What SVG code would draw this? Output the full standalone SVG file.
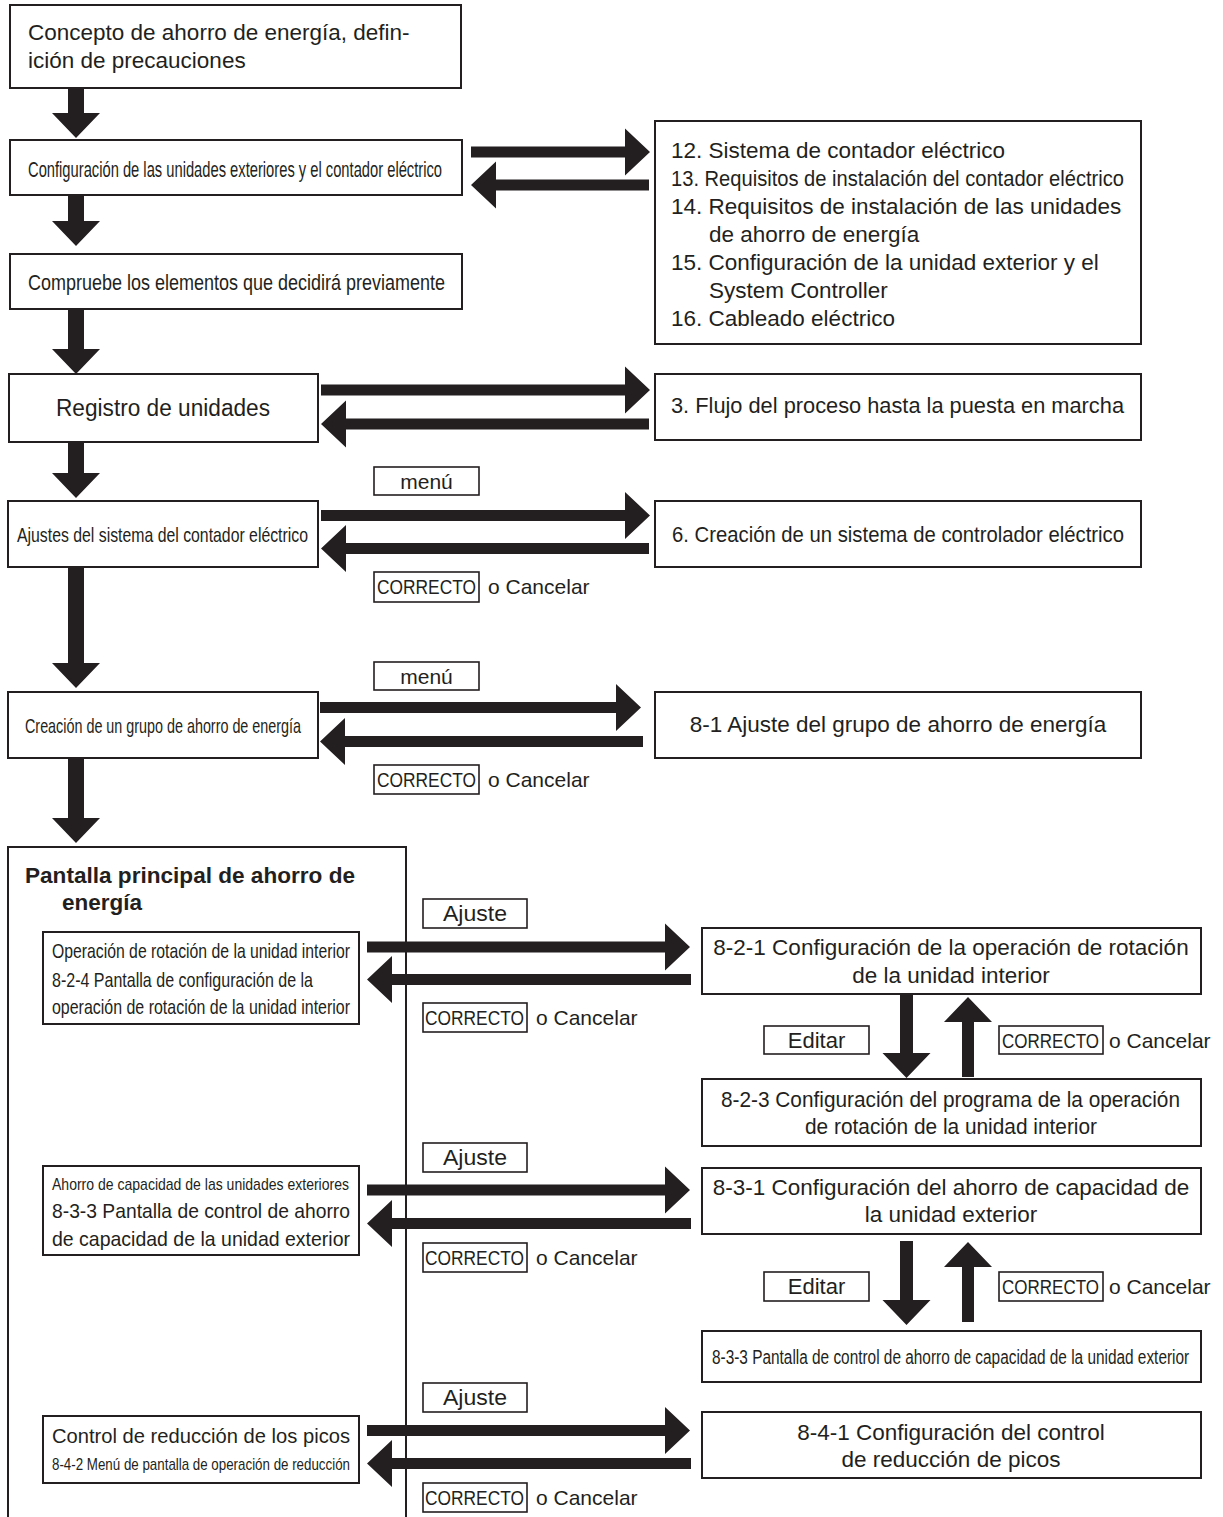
<svg xmlns="http://www.w3.org/2000/svg" width="1223" height="1517" viewBox="0 0 1223 1517">
<style>
  .box{fill:#fff;stroke:#231f20;stroke-width:2}
  .lbl{fill:#fff;stroke:#231f20;stroke-width:1.6}
  .arr{fill:#231f20;stroke:none}
  text{font-family:"Liberation Sans",Arial,Helvetica,sans-serif;fill:#231f20}
  .t{font-size:22.5px}
  .tr{font-size:23px}
  .tc{font-size:22px}
  .ts{font-size:21px}
  .tn{font-size:20px}
  .tx{font-size:17px}
  .tb{font-size:22.5px;font-weight:bold}
  .c{text-anchor:middle}
</style>
<rect width="1223" height="1517" fill="#fff"/>

<g id="n-main">
  <path class="box" d="M8,1517 V847 H406 V1517" fill="none"/>
  <text class="tb" x="25" y="883" textLength="330" lengthAdjust="spacingAndGlyphs">Pantalla principal de ahorro de</text>
  <text class="tb" x="62" y="910">energía</text>
</g>

<g id="n-concepto">
  <rect class="box" x="10" y="5" width="451" height="83"/>
  <text class="t" x="28" y="40">Concepto de ahorro de energía, defin-</text>
  <text class="t" x="28" y="68">ición de precauciones</text>
</g>
<g id="n-config">
  <rect class="box" x="10" y="140" width="452" height="55"/>
  <text class="tc" x="28" y="177" textLength="414" lengthAdjust="spacingAndGlyphs">Configuración de las unidades exteriores y el contador eléctrico</text>
</g>
<g id="n-compruebe">
  <rect class="box" x="10" y="254" width="452" height="55"/>
  <text class="tc" x="28" y="290" textLength="417" lengthAdjust="spacingAndGlyphs">Compruebe los elementos que decidirá previamente</text>
</g>
<g id="n-registro">
  <rect class="box" x="9" y="374" width="309" height="68"/>
  <text class="tr" x="56" y="416" textLength="214" lengthAdjust="spacingAndGlyphs">Registro de unidades</text>
</g>
<g id="n-ajustes">
  <rect class="box" x="8" y="501" width="310" height="66"/>
  <text class="ts" x="17" y="542" textLength="291" lengthAdjust="spacingAndGlyphs">Ajustes del sistema del contador eléctrico</text>
</g>
<g id="n-creacion">
  <rect class="box" x="8" y="692" width="310" height="66"/>
  <text class="ts" x="25" y="733" textLength="276" lengthAdjust="spacingAndGlyphs">Creación de un grupo de ahorro de energía</text>
</g>

<g id="n-secciones">
  <rect class="box" x="655" y="121" width="486" height="223"/>
  <text class="t" x="671" y="158">12. Sistema de contador eléctrico</text>
  <text class="t" x="671" y="186" textLength="453" lengthAdjust="spacingAndGlyphs">13. Requisitos de instalación del contador eléctrico</text>
  <text class="t" x="671" y="214">14. Requisitos de instalación de las unidades</text>
  <text class="t" x="709" y="242">de ahorro de energía</text>
  <text class="t" x="671" y="270">15. Configuración de la unidad exterior y el</text>
  <text class="t" x="709" y="298">System Controller</text>
  <text class="t" x="671" y="326">16. Cableado eléctrico</text>
</g>
<g id="n-flujo">
  <rect class="box" x="655" y="374" width="486" height="66"/>
  <text class="t" x="671" y="413" textLength="453" lengthAdjust="spacingAndGlyphs">3. Flujo del proceso hasta la puesta en marcha</text>
</g>
<g id="n-sistema">
  <rect class="box" x="655" y="501" width="486" height="66"/>
  <text class="t" x="672" y="542" textLength="452" lengthAdjust="spacingAndGlyphs">6. Creación de un sistema de controlador eléctrico</text>
</g>
<g id="n-grupo">
  <rect class="box" x="655" y="692" width="486" height="66"/>
  <text class="t c" x="898" y="732">8-1 Ajuste del grupo de ahorro de energía</text>
</g>

<g id="n-rotacion">
  <rect class="box" x="43" y="932" width="316" height="92"/>
  <text class="ts" x="52" y="958" textLength="298" lengthAdjust="spacingAndGlyphs">Operación de rotación de la unidad interior</text>
  <text class="ts" x="52" y="987" textLength="261" lengthAdjust="spacingAndGlyphs">8-2-4 Pantalla de configuración de la</text>
  <text class="ts" x="52" y="1014" textLength="298" lengthAdjust="spacingAndGlyphs">operación de rotación de la unidad interior</text>
</g>
<g id="n-capacidad">
  <rect class="box" x="43" y="1166" width="316" height="89"/>
  <text class="tx" x="52" y="1190" textLength="297" lengthAdjust="spacingAndGlyphs">Ahorro de capacidad de las unidades exteriores</text>
  <text class="ts" x="52" y="1218" textLength="298" lengthAdjust="spacingAndGlyphs">8-3-3 Pantalla de control de ahorro</text>
  <text class="ts" x="52" y="1246" textLength="298" lengthAdjust="spacingAndGlyphs">de capacidad de la unidad exterior</text>
</g>
<g id="n-picos">
  <rect class="box" x="43" y="1416" width="316" height="67"/>
  <text class="ts" x="52" y="1443" textLength="298" lengthAdjust="spacingAndGlyphs">Control de reducción de los picos</text>
  <text class="tx" x="52" y="1470" textLength="298" lengthAdjust="spacingAndGlyphs">8-4-2 Menú de pantalla de operación de reducción</text>
</g>

<g id="n-821">
  <rect class="box" x="702" y="928" width="499" height="66"/>
  <text class="t c" x="951" y="955">8-2-1 Configuración de la operación de rotación</text>
  <text class="t c" x="951" y="983">de la unidad interior</text>
</g>
<g id="n-823">
  <rect class="box" x="702" y="1079" width="499" height="67"/>
  <text class="t" x="721" y="1107" textLength="459" lengthAdjust="spacingAndGlyphs">8-2-3 Configuración del programa de la operación</text>
  <text class="t" x="805" y="1134" textLength="292" lengthAdjust="spacingAndGlyphs">de rotación de la unidad interior</text>
</g>
<g id="n-831">
  <rect class="box" x="702" y="1168" width="499" height="66"/>
  <text class="t c" x="951" y="1195">8-3-1 Configuración del ahorro de capacidad de</text>
  <text class="t c" x="951" y="1222">la unidad exterior</text>
</g>
<g id="n-833">
  <rect class="box" x="702" y="1331" width="499" height="51"/>
  <text class="tn" transform="translate(712,1364) scale(0.77,1)" x="0" y="0">8-3-3 Pantalla de control de ahorro de capacidad de la unidad exterior</text>
</g>
<g id="n-841">
  <rect class="box" x="702" y="1412" width="499" height="66"/>
  <text class="t c" x="951" y="1440">8-4-1 Configuración del control</text>
  <text class="t c" x="951" y="1467">de reducción de picos</text>
</g>

<g id="labels">
  <rect class="lbl" x="374" y="467" width="105" height="28"/>
  <text class="ts c" x="426.5" y="489">menú</text>
  <rect class="lbl" x="374" y="572" width="105" height="30"/>
  <text class="ts" x="377" y="594" textLength="99" lengthAdjust="spacingAndGlyphs">CORRECTO</text>
  <text class="ts" x="488" y="594">o Cancelar</text>

  <rect class="lbl" x="374" y="662" width="105" height="28"/>
  <text class="ts c" x="426.5" y="684">menú</text>
  <rect class="lbl" x="374" y="765" width="105" height="29"/>
  <text class="ts" x="377" y="787" textLength="99" lengthAdjust="spacingAndGlyphs">CORRECTO</text>
  <text class="ts" x="488" y="787">o Cancelar</text>

  <rect class="lbl" x="423" y="899" width="104" height="29"/>
  <text class="tc" x="443" y="921" textLength="64" lengthAdjust="spacingAndGlyphs">Ajuste</text>
  <rect class="lbl" x="423" y="1003" width="104" height="29"/>
  <text class="ts" x="425" y="1025" textLength="99" lengthAdjust="spacingAndGlyphs">CORRECTO</text>
  <text class="ts" x="536" y="1025">o Cancelar</text>

  <rect class="lbl" x="764" y="1026" width="105" height="28"/>
  <text class="tc c" x="816.5" y="1048">Editar</text>
  <rect class="lbl" x="999" y="1026" width="104" height="28"/>
  <text class="ts" transform="translate(1002,1048) scale(0.81,1)" x="0" y="0">CORRECTO</text>
  <text class="ts" x="1109" y="1048">o Cancelar</text>

  <rect class="lbl" x="423" y="1143" width="104" height="29"/>
  <text class="tc" x="443" y="1165" textLength="64" lengthAdjust="spacingAndGlyphs">Ajuste</text>
  <rect class="lbl" x="423" y="1243" width="104" height="29"/>
  <text class="ts" x="425" y="1265" textLength="99" lengthAdjust="spacingAndGlyphs">CORRECTO</text>
  <text class="ts" x="536" y="1265">o Cancelar</text>

  <rect class="lbl" x="764" y="1272" width="105" height="29"/>
  <text class="tc c" x="816.5" y="1294">Editar</text>
  <rect class="lbl" x="999" y="1272" width="104" height="29"/>
  <text class="ts" transform="translate(1002,1294) scale(0.81,1)" x="0" y="0">CORRECTO</text>
  <text class="ts" x="1109" y="1294">o Cancelar</text>

  <rect class="lbl" x="423" y="1383" width="104" height="29"/>
  <text class="tc" x="443" y="1405" textLength="64" lengthAdjust="spacingAndGlyphs">Ajuste</text>
  <rect class="lbl" x="423" y="1483" width="104" height="29"/>
  <text class="ts" x="425" y="1505" textLength="99" lengthAdjust="spacingAndGlyphs">CORRECTO</text>
  <text class="ts" x="536" y="1505">o Cancelar</text>
</g>

<g id="connectors">
  <polygon class="arr" points="68,88 84,88 84,113 100,113 76,138 52,113 68,113"/>
  <polygon class="arr" points="68,195 84,195 84,221 100,221 76,246 52,221 68,221"/>
  <polygon class="arr" points="68,309 84,309 84,349 100,349 76,374 52,349 68,349"/>
  <polygon class="arr" points="68,442 84,442 84,473 100,473 76,498 52,473 68,473"/>
  <polygon class="arr" points="68,567 84,567 84,663 100,663 76,688 52,663 68,663"/>
  <polygon class="arr" points="68,758 84,758 84,818 100,818 76,843 52,818 68,818"/>

  <polygon class="arr" points="471,146.5 625,146.5 625,128.5 650,152 625,175.5 625,157.5 471,157.5"/>
  <polygon class="arr" points="649,179.5 496,179.5 496,161.5 471,185 496,208.5 496,190.5 649,190.5"/>

  <polygon class="arr" points="321,384.5 625,384.5 625,366.5 650,390 625,413.5 625,395.5 321,395.5"/>
  <polygon class="arr" points="649,418.5 346,418.5 346,400.5 321,424 346,447.5 346,429.5 649,429.5"/>

  <polygon class="arr" points="321,510 625,510 625,492 650,515.5 625,539 625,521 321,521"/>
  <polygon class="arr" points="649,543 346,543 346,525 321,548.5 346,572 346,554 649,554"/>

  <polygon class="arr" points="320,702 616,702 616,684 641,707.5 616,731 616,713 320,713"/>
  <polygon class="arr" points="643,736 345,736 345,718 320,741.5 345,765 345,747 643,747"/>

  <polygon class="arr" points="367,941.5 665,941.5 665,923.5 690,947 665,970.5 665,952.5 367,952.5"/>
  <polygon class="arr" points="691,974 392,974 392,956 367,979.5 392,1003 392,985 691,985"/>

  <polygon class="arr" points="367,1184.5 665,1184.5 665,1166.5 690,1190 665,1213.5 665,1195.5 367,1195.5"/>
  <polygon class="arr" points="691,1218 392,1218 392,1200 367,1223.5 392,1247 392,1229 691,1229"/>

  <polygon class="arr" points="367,1425 665,1425 665,1407 690,1430.5 665,1454 665,1436 367,1436"/>
  <polygon class="arr" points="691,1458 392,1458 392,1440 367,1463.5 392,1487 392,1469 691,1469"/>

  <polygon class="arr" points="900,994 913,994 913,1053 930.5,1053 906.5,1078 882.5,1053 900,1053"/>
  <polygon class="arr" points="962,1077 974,1077 974,1022 992,1022 968,997 944,1022 962,1022"/>
  <polygon class="arr" points="900,1241 913,1241 913,1300 930.5,1300 906.5,1325 882.5,1300 900,1300"/>
  <polygon class="arr" points="962,1322 974,1322 974,1267 992,1267 968,1242 944,1267 962,1267"/>
</g>
</svg>
